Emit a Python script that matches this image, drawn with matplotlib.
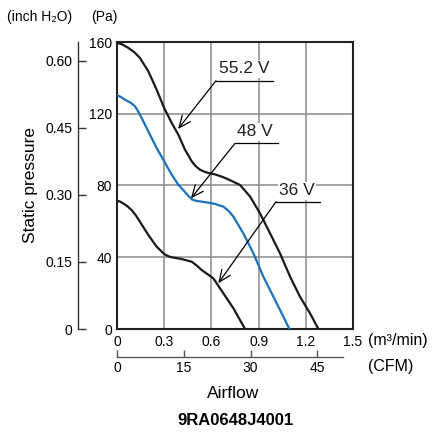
import matplotlib.pyplot as plt

plt.rcParams["font.family"] = ["Liberation Sans", "DejaVu Sans"]

PA_PER_INH2O = 249.089
CFM_PER_M3MIN = 35.3147

# P-Q curves (airflow m3/min, static pressure Pa)
flow_552 = [0.0, 0.03, 0.072, 0.11, 0.146, 0.199, 0.252, 0.30, 0.348, 0.39,
            0.432, 0.475, 0.50, 0.528, 0.555, 0.581, 0.623, 0.67, 0.718, 0.782,
            0.846, 0.909, 0.973, 1.036, 1.10, 1.163, 1.227, 1.28]
pres_552 = [159.5, 158.8, 156.7, 154.3, 151.1, 143.7, 133.4, 123.2, 114.8, 108.3,
            100.0, 93.5, 90.8, 88.8, 87.7, 87.0, 86.2, 84.8, 83.0, 80.3,
            73.8, 64.5, 53.3, 42.2, 29.2, 18.0, 8.7, 0.0]

flow_48 = [0.0, 0.02, 0.051, 0.085, 0.114, 0.135, 0.157, 0.199, 0.252, 0.30,
           0.348, 0.39, 0.421, 0.45, 0.475, 0.505, 0.538, 0.612, 0.676, 0.71,
           0.74, 0.803, 0.867, 0.93, 0.994, 1.047, 1.096]
pres_48 = [130.3, 129.6, 127.8, 126.3, 124.2, 121.3, 117.6, 110.2, 100.9, 93.5,
           86.0, 80.4, 77.5, 74.5, 72.3, 71.4, 71.0, 70.0, 68.2, 65.8,
           62.6, 53.3, 42.2, 29.2, 18.0, 8.7, 0.0]

flow_36 = [0.0, 0.02, 0.04, 0.065, 0.093, 0.12, 0.146, 0.199, 0.252, 0.30,
           0.325, 0.348, 0.411, 0.475, 0.505, 0.538, 0.612, 0.676, 0.74, 0.814]
pres_36 = [71.5, 71.0, 70.0, 68.5, 66.3, 63.3, 59.8, 52.4, 45.9, 41.8,
           40.6, 40.0, 39.0, 37.5, 35.5, 32.9, 28.3, 19.9, 11.5, 0.0]

x_ticks = [0, 0.3, 0.6, 0.9, 1.2, 1.5]
x_labels = ["0", "0.3", "0.6", "0.9", "1.2", "1.5"]
y_ticks = [0, 40, 80, 120, 160]
cfm_ticks = [0, 15, 30, 45]
inch_ticks = [0, 0.15, 0.30, 0.45, 0.60]
inch_labels = ["0", "0.15", "0.30", "0.45", "0.60"]

BLUE = "#1a72b8"
GRID = "#8a8a8a"

fig = plt.figure(figsize=(4.34, 4.48), dpi=100)
W, H = 434, 448
ax = fig.add_axes([117 / W, 1 - 329 / H, 236 / W, 287 / H])
ax.set_xlim(0, 1.5)
ax.set_ylim(0, 160)
ax.set_xticks(x_ticks, x_labels)
ax.set_yticks(y_ticks)
ax.tick_params(length=0, labelsize=10)
ax.tick_params(axis="x", pad=4)
ax.tick_params(axis="y", pad=3.5)
ax.grid(True, color=GRID, lw=1.1)
ax.set_axisbelow(True)
for s in ax.spines.values():
    s.set_linewidth(1.5)
    s.set_color("#222222")

ax.plot(flow_552, pres_552, color="#1a1a1a", lw=1.6, zorder=3)
ax.plot(flow_48, pres_48, color=BLUE, lw=1.6, zorder=3)
ax.plot(flow_36, pres_36, color="#1a1a1a", lw=1.6, zorder=3)

# leader arrows: (label, text pos, corner, line end, tip)
labels = [
    ("55.2 V", (0.809, 145.0), (0.629, 138.4), 0.994, (0.388, 111.5)),
    ("48 V", (0.879, 110.0), (0.75, 103.5), 1.025, (0.47, 72.8)),
    ("36 V", (1.143, 77.1), (1.011, 71.0), 1.29, (0.644, 25.5)),
]
for txt, tpos, corner, xend, tip in labels:
    ax.plot([corner[0], xend], [corner[1], corner[1]], color="k", lw=0.9, zorder=4)
    ax.annotate("", xy=tip, xytext=corner,
                arrowprops=dict(arrowstyle="->,head_length=0.5,head_width=0.22",
                                lw=0.9, color="k", shrinkA=0, shrinkB=0,
                                mutation_scale=17),
                zorder=4)
    ax.text(tpos[0], tpos[1], txt, ha="center", va="center", fontsize=12.5,
            color="#222222", zorder=5,
            bbox=dict(facecolor="white", edgecolor="none", pad=1))

# secondary scales
sec_y = ax.secondary_yaxis(-39 / 236, functions=(lambda p: p / PA_PER_INH2O,
                                                 lambda i: i * PA_PER_INH2O))
sec_y.set_yticks(inch_ticks, inch_labels)
sec_y.tick_params(direction="in", length=6, width=1, labelsize=10, pad=4,
                  color="#333333")
sec_y.spines["left"].set_linewidth(1)
sec_y.spines["left"].set_color("#333333")

sec_x = ax.secondary_xaxis(-28 / 287, functions=(lambda q: q * CFM_PER_M3MIN,
                                                 lambda c: c / CFM_PER_M3MIN))
sec_x.set_xticks(cfm_ticks)
sec_x.tick_params(direction="in", length=5, width=1, labelsize=10, pad=3,
                  color="#555555")
sec_x.spines["bottom"].set_linewidth(1)
sec_x.spines["bottom"].set_color("#555555")
sec_x.spines["bottom"].set_bounds(0, 50.7)

fig.text(7 / W, 1 - 17 / H, "(inch H\u2082O)", ha="left", va="center", fontsize=10)
fig.text(91 / W, 1 - 17 / H, "(Pa)", ha="left", va="center", fontsize=10)
fig.text(31 / W, 1 - 185 / H, "Static pressure", rotation=90, ha="center",
         va="center", fontsize=12.5)
fig.text(368 / W, 1 - 340 / H, "(m\u00b3/min)", ha="left", va="center", fontsize=11.5)
fig.text(368 / W, 1 - 366 / H, "(CFM)", ha="left", va="center", fontsize=11.5)
fig.text(233 / W, 1 - 393 / H, "Airflow", ha="center", va="center", fontsize=12.5)
fig.text(235 / W, 1 - 420 / H, "9RA0648J4001", ha="center", va="center",
         fontsize=12, fontweight="bold")

fig.savefig("out.png", dpi=100)
